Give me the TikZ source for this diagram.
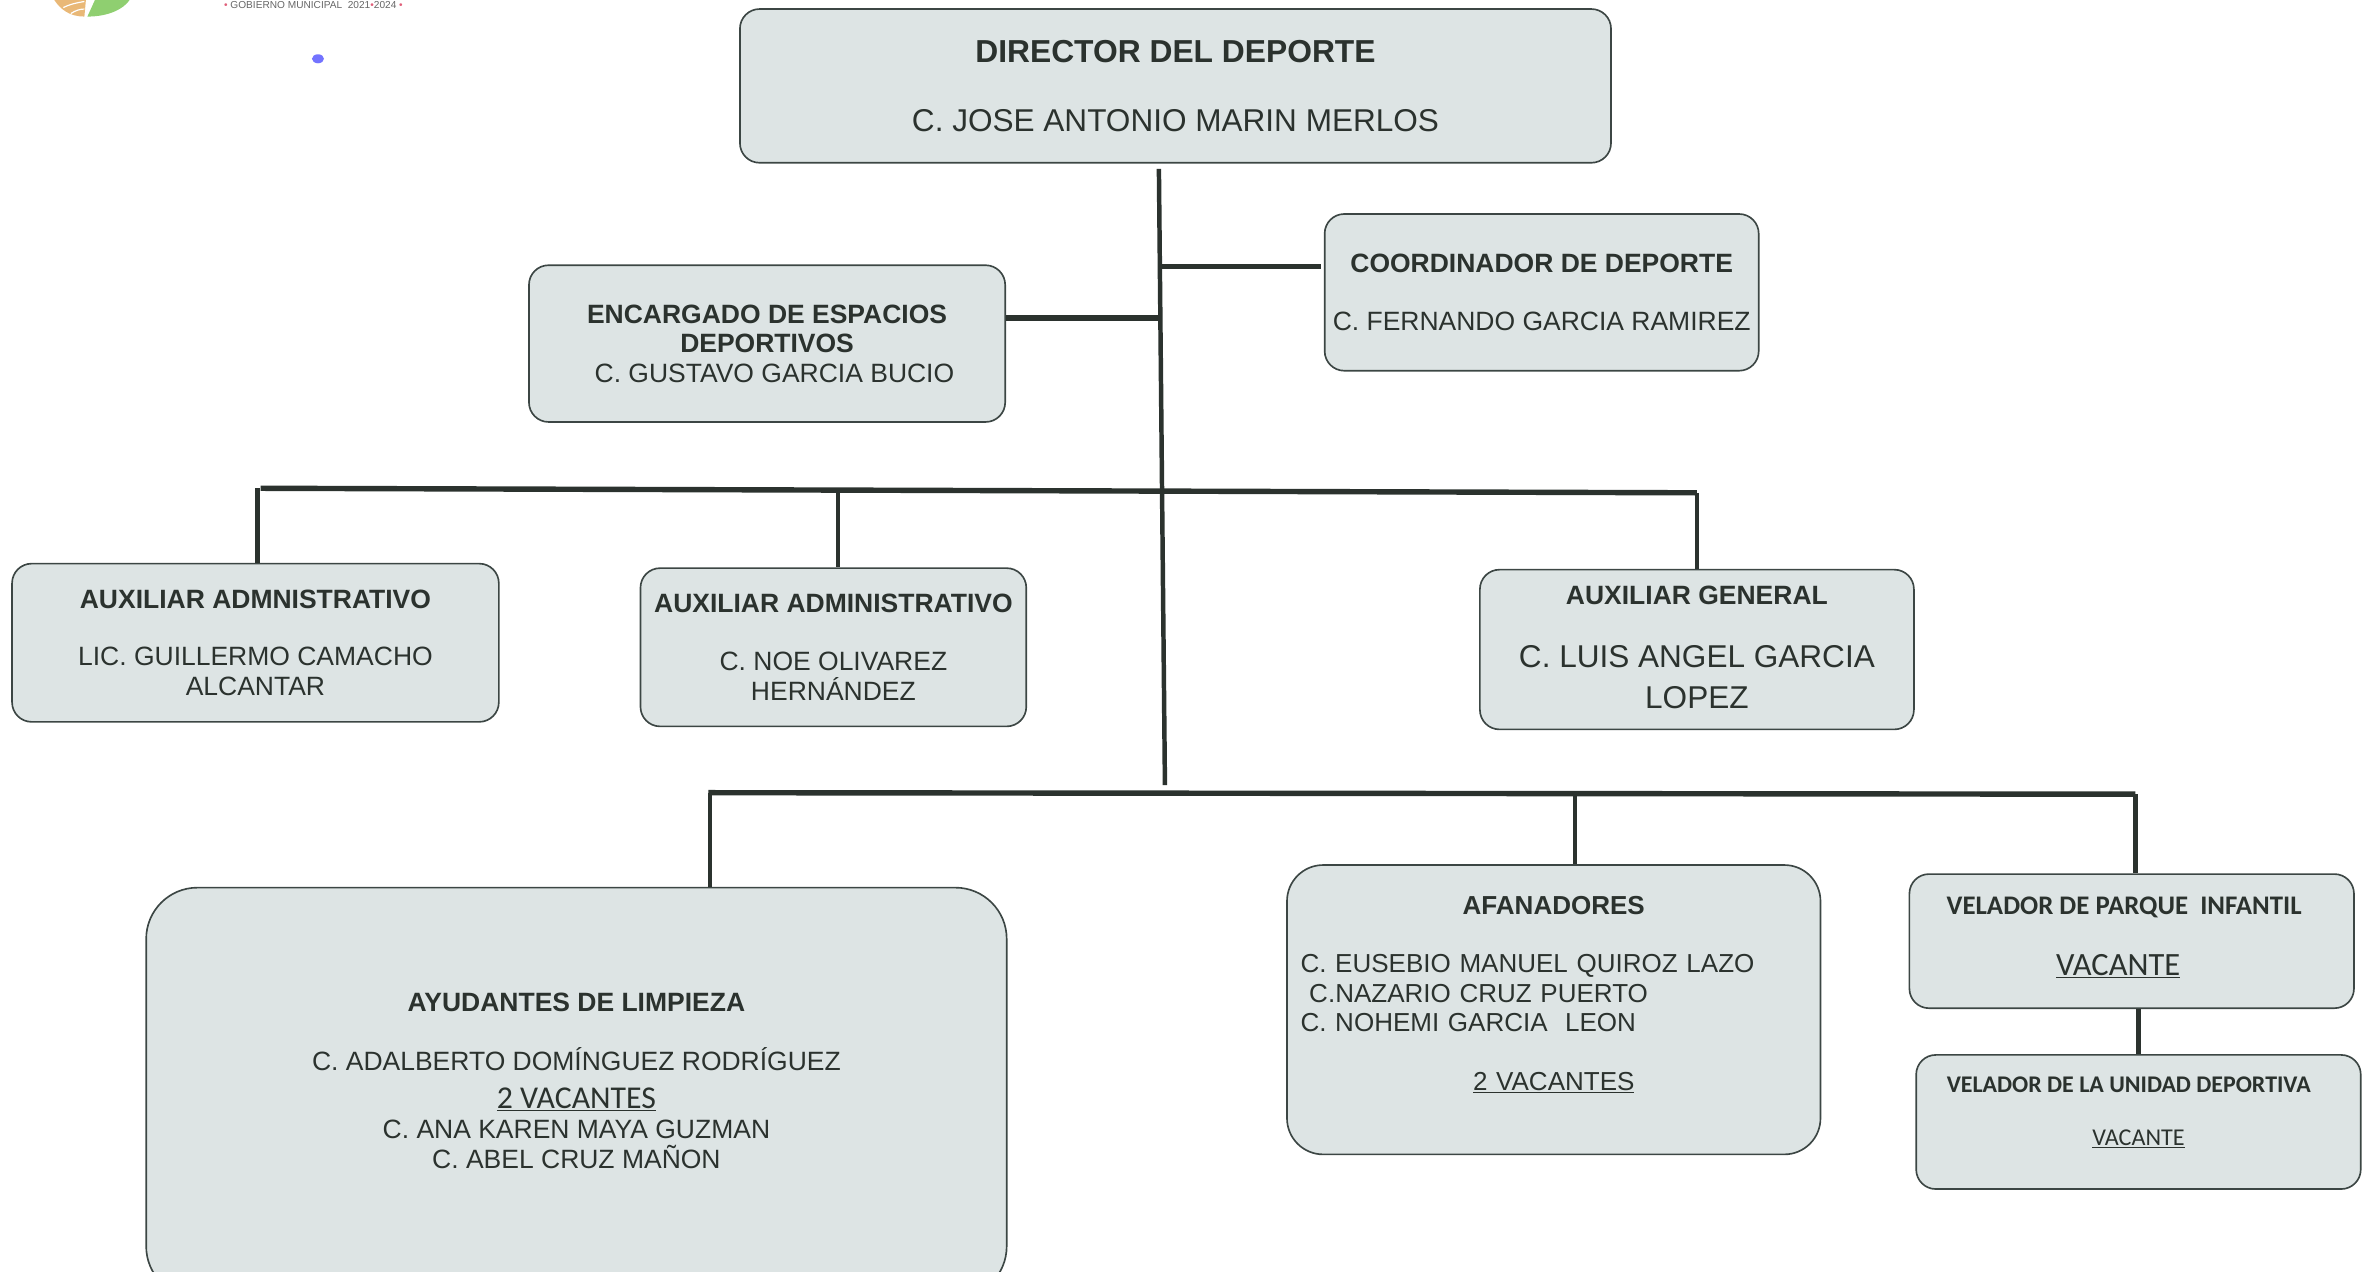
\documentclass[tikz,border=0pt]{standalone}
\usepackage{fontspec}
\setmainfont{Liberation Sans}
\newfontfamily\carlito{Carlito}
\usepackage{xcolor}

\definecolor{fondo}{HTML}{DDE4E4}
\definecolor{borde}{HTML}{3C4644}
\definecolor{tinta}{HTML}{2B322E}
\definecolor{hoja}{HTML}{8FCF70}
\definecolor{petalo}{HTML}{E9B877}
\definecolor{rosa}{HTML}{E0607A}

\newcommand{\un}{0.45mm}
\newcommand{\letra}[1]{\fontsize{#1}{25}\selectfont}

\tikzset{
	caja/.style 2 args={draw=borde, fill=fondo, rounded corners=13*\un, line width=1.4pt, inner sep=0pt, align=center, text=tinta, font=\letra{22.5}, minimum width=#1*\un, minimum height=#2*\un},
	linea/.style={draw=tinta, line width=4.6pt},
	lineafina/.style={draw=tinta, line width=3.8pt}
}

\begin{document}
\begin{tikzpicture}[x=\un,y=-\un]
	\useasboundingbox (0,0) rectangle (1568,844);

	% logo
	\fill[petalo] (36,0) -- (57,0) -- (56,11) .. controls (46,11) and (40,6) .. (36,0);
	\fill[hoja] (58,11) .. controls (72,11) and (82,6) .. (86,0) -- (63,0) -- cycle;
	\draw[white, line width=1pt] (42,5) .. controls (46,3) and (50,2) .. (56,1);
	\draw[white, line width=1pt] (47,9) .. controls (50,7) and (53,6) .. (56,6);
	\node[text=gray!80!black, font=\fontsize{8.6}{9}\selectfont] (gobierno) at (208,3.5) {{\color{rosa}•} GOBIERNO MUNICIPAL\ \ 2021{\color{rosa}•}2024 {\color{rosa}•}};
	\fill[blue!55!white] (211,39) ellipse (4 and 3);

	% cajas
	\node[caja={578}{102}] (director) at (780,57) {{\letra{27}\bfseries DIRECTOR DEL DEPORTE}\\[34pt]{\letra{26.8}C. JOSE ANTONIO MARIN MERLOS}};
	\node[caja={288}{104}] (coordinador) at (1023,194) {{\bfseries COORDINADOR DE DEPORTE}\\[25pt]C. FERNANDO GARCIA RAMIREZ};
	\node[caja={316}{104}] (encargado) at (509,228) {{\bfseries ENCARGADO DE ESPACIOS}\\{\bfseries DEPORTIVOS}\\\ \ C. GUSTAVO GARCIA BUCIO};
	\node[caja={323}{105}] (auxa) at (169.5,426.5) {{\bfseries AUXILIAR ADMNISTRATIVO}\\[24pt]LIC. GUILLERMO CAMACHO\\ALCANTAR};
	\node[caja={256}{105}] (auxb) at (553,429.5) {{\bfseries AUXILIAR ADMINISTRATIVO}\\[24pt]C. NOE OLIVAREZ\\HERNÁNDEZ};
	\node[caja={288}{106}] (auxgen) at (1126,431) {{\bfseries AUXILIAR GENERAL}\\[29pt]{\letra{26.8}C. LUIS ANGEL GARCIA}\\[10pt]{\letra{26.8}LOPEZ}\\[-21pt]~};
	\node[caja={571}{272}, rounded corners=34*\un] (ayudantes) at (382.5,725) {{\bfseries AYUDANTES DE LIMPIEZA}\\[25pt]C. ADALBERTO DOMÍNGUEZ RODRÍGUEZ\\[7pt]{\carlito\letra{27}\underline{2 VACANTES}}\\[1pt]C. ANA KAREN MAYA GUZMAN\\C. ABEL CRUZ MAÑON\\[-5pt]~};
	\node[caja={354}{192}, rounded corners=24*\un, align=left, text width=336*\un, inner xsep=9*\un, font=\letra{22.1}] (afanadores) at (1031,670) {\makebox[151.2mm][c]{\bfseries AFANADORES}\\[25pt]C. EUSEBIO MANUEL QUIROZ LAZO\\\ C.NAZARIO CRUZ PUERTO\\C. NOHEMI GARCIA\ \ LEON\\[25pt]\makebox[151.2mm][c]{\underline{2 VACANTES}}\\[3pt]~};
	\node[caja={295}{89}, font=\carlito\letra{22.8}] (parque) at (1414.5,624.5) {{\bfseries VELADOR DE PARQUE\ \ INFANTIL}\rule{4.5mm}{0pt}\\[27pt]{\letra{27.6}\underline{VACANTE}}\rule{8.1mm}{0pt}\\[-16pt]~};
	\node[caja={295}{89}, font=\carlito\letra{20.3}] (unidad) at (1419,744.5) {{\bfseries VELADOR DE LA UNIDAD DEPORTIVA}\rule{5.8mm}{0pt}\\[20pt]{\letra{20.5}\underline{VACANTE}}\\[-7pt]~};

	% troncos y ramas
	\coordinate (tronco a) at (769,112);
	\coordinate (tronco b) at (773,521);
	\coordinate (bus a) at (173,324);
	\coordinate (bus b) at (1126,327);
	\coordinate (bus c) at (470,526);
	\coordinate (bus d) at (1417,527);
	\coordinate (rama a) at (771,177);
	\coordinate (rama b) at (769,211);

	\draw[lineafina] (tronco a) -- (tronco b);
	\draw[linea, shorten >=2*\un] (rama a) -- (coordinador.west |- rama a);
	\draw[linea] (rama b) -- (encargado.east |- rama b);
	\draw[linea] (bus a) -- (bus b);
	\draw[linea] (bus c) -- (bus d);
	\draw[lineafina] (171,324) -- (171,0 |- auxa.north);
	\draw[lineafina] (556,326) -- (556,0 |- auxb.north);
	\draw[lineafina] (bus b) -- (auxgen.north);
	\draw[lineafina] (471,526) -- (471,0 |- ayudantes.north);
	\draw[lineafina] (1045,527) -- (1045,0 |- afanadores.north);
	\draw[lineafina] (bus d) -- (1417,0 |- parque.north);
	\draw[linea] (1419,0 |- parque.south) -- (1419,0 |- unidad.north);
\end{tikzpicture}
\end{document}
